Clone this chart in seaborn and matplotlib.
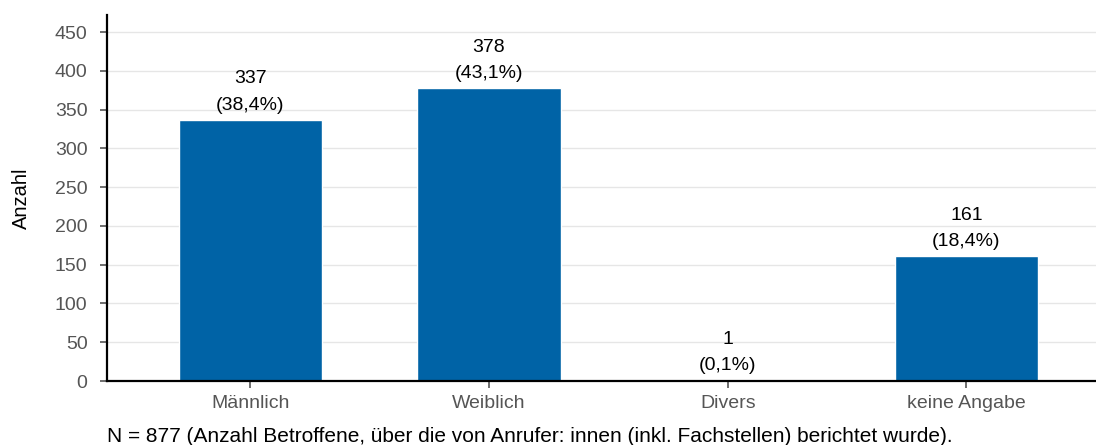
import matplotlib
matplotlib.use("Agg")
import matplotlib.pyplot as plt
import seaborn as sns
import pandas as pd

categories = ["Männlich", "Weiblich", "Divers", "keine Angabe"]
counts = [337, 378, 1, 161]
percents = ["38,4%", "43,1%", "0,1%", "18,4%"]
yticks = [0, 50, 100, 150, 200, 250, 300, 350, 400, 450]
caption = "N = 877 (Anzahl Betroffene, über die von Anrufer: innen (inkl. Fachstellen) berichtet wurde)."

sns.set_theme(style="white")
plt.rcParams['font.family'] = ['Liberation Sans', 'DejaVu Sans']

df = pd.DataFrame({"Kategorie": categories, "Anzahl": counts})

fig = plt.figure(figsize=(10.96, 4.45), dpi=100)
ax = fig.add_axes([0.0976, 0.1438, 0.904, 0.8222])
sns.barplot(data=df, x="Kategorie", y="Anzahl", color="#0063A6", width=0.6, ax=ax, saturation=1)

ax.set_ylim(0, 472)
ax.set_xlim(-0.6, 3.55)
ax.set_yticks(yticks)
ax.yaxis.grid(True, color="#e6e6e6", linewidth=1)
ax.set_axisbelow(True)
for s in ["top", "right"]:
    ax.spines[s].set_visible(False)
for s in ["left", "bottom"]:
    ax.spines[s].set_color("black")
    ax.spines[s].set_linewidth(1.6)
ax.tick_params(axis="both", which="both", length=5, width=1.2, color="#555555",
               labelcolor="#555555", labelsize=14, left=True, bottom=True)
ax.tick_params(axis="y", pad=9)
ax.tick_params(axis="x", pad=5)
ax.set_xlabel("")
ax.set_ylabel("Anzahl", fontsize=14.5, color="black", labelpad=17)

for i, (c, p) in enumerate(zip(counts, percents)):
    ax.annotate(f"{c}\n({p})", xy=(i, c), xytext=(0, 4.5), textcoords="offset points",
                ha="center", va="bottom", fontsize=14, linespacing=1.7, color="black")

fig.text(0.0976, 0.0067, caption, fontsize=15, color="black", ha="left", va="baseline")

fig.savefig("out.png", dpi=100)
